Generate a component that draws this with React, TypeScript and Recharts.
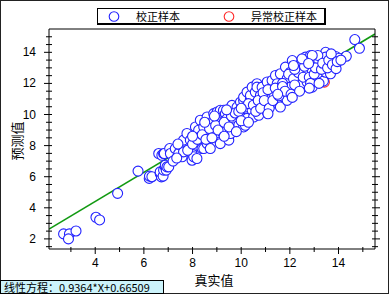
import { ComposedChart, Scatter, Line, XAxis, YAxis } from "recharts"

// calibration samples (真实值, 预测值)
const sampleX = [
  2.7, 2.94, 2.9, 3.21, 4.03, 4.18, 4.92, 5.76, 6.22, 6.23, 6.33, 6.67, 6.72, 6.67, 6.79, 6.81, 6.88, 6.88, 6.92, 6.95,
  7.02, 6.61, 6.74, 6.81, 6.84, 7.06, 7.09, 7.29, 7.43, 7.5, 7.57, 7.63, 7.63, 7.77, 7.91, 7.98, 7.98, 8.05, 8.18, 8.12,
  8.12, 8.25, 8.32, 8.32, 8.39, 8.46, 8.46, 8.6, 8.6, 8.73, 8.73, 8.87, 8.87, 9.01, 9.01, 9.14, 9.14, 9.14, 9.21, 9.21,
  9.27, 9.35, 9.42, 9.42, 9.49, 9.56, 9.56, 9.62, 9.69, 9.69, 9.83, 9.9, 9.97, 10.1, 10.1, 10.1, 10.1, 10.17, 10.17, 10.17,
  10.24, 10.24, 10.38, 10.38, 10.45, 10.45, 10.51, 10.58, 10.65, 10.65, 10.72, 10.79, 10.86, 11.0, 11.07, 11.07, 11.2, 11.2, 11.27, 11.34,
  11.41, 11.48, 11.48, 11.61, 11.61, 11.61, 11.75, 11.82, 11.89, 11.89, 11.89, 12.02, 12.02, 12.1, 12.23, 12.3, 12.44, 12.5, 12.64, 12.71,
  12.71, 12.85, 12.92, 12.92, 12.98, 13.12, 13.19, 13.26, 13.38, 13.4, 13.47, 13.47, 13.47, 13.64, 13.67, 13.8, 13.88, 13.88, 14.03, 14.32,
  14.67, 14.86, 7.2, 7.35, 7.8, 8.0, 8.2, 8.4, 8.55, 8.7, 8.8, 8.95, 9.05, 9.3, 9.3, 9.5, 9.6, 9.75, 9.8, 9.9,
  10.0, 10.3, 10.3, 10.5, 10.6, 10.7, 10.8, 10.9, 10.95, 11.1, 11.15, 11.3, 11.4, 11.55, 11.7, 11.7, 11.8, 11.95, 12.05, 12.15,
  12.2, 12.35, 12.4, 12.55, 12.6, 12.8, 12.85, 13.0, 13.05, 13.15, 13.3, 13.35, 13.55, 13.6, 13.7, 13.75, 12.2, 11.5, 10.0, 9.4,
  8.9, 8.5, 8.0, 7.4, 12.1, 12.8, 13.2, 13.9, 11.1, 12.92, 12.5, 12.77, 12.15, 13.95, 14.1,
]
const sampleY = [
  2.32, 2.32, 2.0, 2.51, 3.39, 3.22, 4.93, 6.36, 5.89, 6.04, 6.0, 6.21, 5.99, 6.31, 6.04, 6.42, 6.63, 6.74, 6.42, 6.63,
  6.63, 7.49, 7.38, 7.49, 7.49, 7.81, 7.49, 7.81, 7.49, 8.03, 7.28, 7.6, 8.35, 8.78, 8.35, 7.49, 7.06, 7.28, 7.17, 8.03,
  9.2, 8.99, 8.56, 9.63, 7.81, 9.2, 7.81, 8.13, 9.84, 7.81, 8.89, 9.63, 10.06, 10.16, 8.78, 10.27, 8.24, 8.13, 8.89, 9.52,
  10.27, 10.06, 8.99, 9.74, 8.35, 10.38, 8.78, 10.59, 9.74, 9.2, 10.48, 9.31, 10.8, 9.84, 9.2, 10.9, 11.12, 9.31, 10.38, 10.48,
  11.44, 9.74, 11.02, 11.23, 11.76, 10.27, 9.84, 11.44, 11.98, 11.76, 9.95, 11.23, 11.76, 10.7, 10.16, 12.09, 11.12, 10.59, 12.19, 11.34,
  12.51, 11.98, 10.91, 12.62, 11.55, 10.48, 11.12, 13.05, 12.3, 11.34, 10.91, 12.72, 11.76, 13.47, 13.05, 11.66, 13.26, 11.98, 13.69, 12.62,
  12.09, 13.8, 12.83, 11.76, 13.37, 12.19, 13.47, 12.41, 12.15, 13.54, 14.0, 13.69, 12.72, 13.15, 12.62, 13.66, 13.73, 13.26, 13.62, 13.75,
  14.82, 14.26, 7.0, 7.2, 7.7, 8.1, 8.4, 8.7, 8.4, 9.1, 8.5, 9.3, 9.0, 9.5, 8.6, 9.2, 9.9, 10.1, 8.9, 10.2,
  9.6, 10.7, 9.5, 10.6, 10.2, 10.9, 10.4, 11.4, 10.9, 11.6, 10.4, 10.9, 11.7, 11.2, 12.0, 11.8, 11.5, 12.6, 11.3, 12.3,
  11.9, 12.7, 11.5, 12.4, 13.1, 12.4, 12.0, 12.6, 13.0, 13.8, 12.9, 13.3, 13.0, 13.5, 13.9, 13.2, 12.9, 11.3, 10.4, 10.3,
  9.9, 9.5, 8.6, 8.1, 11.1, 11.7, 12.0, 12.95, 10.05, 13.8, 13.58, 13.28, 13.15, 13.4, 13.5,
]

// abnormal calibration sample
const outlierX = [13.42]
const outlierY = [12.08]

// fitted line ends: 0.9364*X+0.66509
const fitX = [2.1, 15.5]
const fitY = [2.63, 15.18]

const xTicks = [3, 4, 5, 6, 7, 8, 9, 10, 11, 12, 13, 14, 15]
const yTicks = [
  1.5, 2, 2.5, 3, 3.5, 4, 4.5, 5, 5.5, 6, 6.5, 7, 7.5, 8, 8.5, 9, 9.5, 10, 10.5, 11, 11.5, 12, 12.5, 13, 13.5, 14, 14.5, 15,
]

const samples = sampleX.map((x, i) => ({ x, y: sampleY[i] }))
const outliers = outlierX.map((x, i) => ({ x, y: outlierY[i] }))
const fitLine = fitX.map((x, i) => ({ x, y: fitY[i] }))

const cjk = '"Noto Sans CJK SC", sans-serif'
const num = '"Liberation Sans", Arial, sans-serif'

const ring = (color: string) => (p: any) => (
  <circle cx={p.cx} cy={p.cy} r={5} fill="#fff" stroke={color} strokeWidth={1.1} />
)

const isMajorX = (v: number) => v % 2 === 0
const isMajorY = (v: number) => Number.isInteger(v) && v % 2 === 0

const BottomTick = ({ x, y, payload }: any) => {
  const major = isMajorX(payload.value)
  return (
    <g>
      <line x1={x} x2={x} y1={y - 2} y2={y + (major ? 5 : 3)} stroke="#000" />
      {major && (
        <text x={x} y={y + 14} textAnchor="middle" dominantBaseline="central" fontSize={12} fontFamily={num} fill="#000">
          {payload.value}
        </text>
      )}
    </g>
  )
}

const TopTick = ({ x, y, payload }: any) => {
  const major = isMajorX(payload.value)
  return <line x1={x} x2={x} y1={y + 2} y2={y - (major ? 5 : 3)} stroke="#000" />
}

const LeftTick = ({ x, y, payload }: any) => {
  const major = isMajorY(payload.value)
  return (
    <g>
      <line x1={x - (major ? 5 : 3)} x2={x + 3} y1={y} y2={y} stroke="#000" />
      {major && (
        <text x={x - 13} y={y} textAnchor="end" dominantBaseline="central" fontSize={12} fontFamily={num} fill="#000">
          {payload.value}
        </text>
      )}
    </g>
  )
}

const RightTick = ({ x, y, payload }: any) => {
  const major = isMajorY(payload.value)
  return <line x1={x - 3} x2={x + (major ? 5 : 3)} y1={y} y2={y} stroke="#000" />
}

export default function App() {
  return (
    <div
      style={{
        position: "absolute",
        left: 0,
        top: 0,
        width: 389,
        height: 294,
        background: "#fff",
        border: "1px solid #222",
        boxSizing: "border-box",
      }}
    >
      <div style={{ position: "absolute", left: -1, top: -1 }}>
        <ComposedChart width={389} height={294} margin={{ top: 28, right: 13, bottom: 44, left: 48 }}>
          <XAxis
            type="number"
            dataKey="x"
            domain={[2.1, 15.5]}
            ticks={xTicks}
            allowDataOverflow
            height={1}
            tickSize={0}
            tickMargin={0}
            tickLine={false}
            tick={<BottomTick />}
            axisLine={{ stroke: "#000" }}
            interval={0}
          />
          <XAxis
            xAxisId="top"
            orientation="top"
            type="number"
            domain={[2.1, 15.5]}
            ticks={xTicks}
            allowDataOverflow
            height={1}
            tickSize={0}
            tickMargin={0}
            tickLine={false}
            tick={<TopTick />}
            axisLine={{ stroke: "#000" }}
            interval={0}
          />
          <YAxis
            type="number"
            dataKey="y"
            domain={[1.35, 15.5]}
            ticks={yTicks}
            allowDataOverflow
            width={1}
            tickSize={0}
            tickMargin={0}
            tickLine={false}
            tick={<LeftTick />}
            axisLine={{ stroke: "#000" }}
            interval={0}
          />
          <YAxis
            yAxisId="right"
            orientation="right"
            type="number"
            domain={[1.35, 15.5]}
            ticks={yTicks}
            allowDataOverflow
            width={1}
            tickSize={0}
            tickMargin={0}
            tickLine={false}
            tick={<RightTick />}
            axisLine={{ stroke: "#000" }}
            interval={0}
          />
          <Scatter data={outliers} shape={ring("#ff2a2a")} isAnimationActive={false} />
          <Scatter data={samples} shape={ring("#2323ff")} isAnimationActive={false} />
          <Line
            data={fitLine}
            dataKey="y"
            type="linear"
            stroke="#129a12"
            strokeWidth={1.6}
            dot={false}
            activeDot={false}
            isAnimationActive={false}
          />
        </ComposedChart>
      </div>

      {/* legend */}
      <div
        style={{
          position: "absolute",
          left: 96,
          top: 7,
          width: 229,
          height: 17,
          border: "1px solid #000",
          borderRightWidth: 2,
          borderBottomWidth: 2,
          boxSizing: "border-box",
          background: "#fff",
          fontFamily: cjk,
          fontSize: 11,
          lineHeight: "14px",
        }}
      >
        <svg width={229} height={17} style={{ position: "absolute", left: -1, top: -1 }}>
          <circle cx={17} cy={8.5} r={4.8} fill="none" stroke="#2323ff" strokeWidth={1.1} />
          <circle cx={132} cy={8.5} r={4.8} fill="none" stroke="#ff2a2a" strokeWidth={1.1} />
        </svg>
        <span style={{ position: "absolute", left: 38, top: 0 }}>校正样本</span>
        <span style={{ position: "absolute", left: 153, top: 0 }}>异常校正样本</span>
      </div>

      {/* axis titles */}
      <div
        style={{
          position: "absolute",
          left: 15,
          top: 140,
          transform: "translate(-50%, -50%) rotate(-90deg)",
          fontFamily: cjk,
          fontSize: 13,
          whiteSpace: "nowrap",
        }}
      >
        预测值
      </div>
      <div
        style={{
          position: "absolute",
          left: 213,
          top: 278,
          transform: "translate(-50%, -50%)",
          fontFamily: cjk,
          fontSize: 13,
          whiteSpace: "nowrap",
        }}
      >
        真实值
      </div>

      {/* equation box */}
      <div
        style={{
          position: "absolute",
          left: -1,
          top: 279,
          width: 164,
          height: 14,
          background: "#ccf3fb",
          border: "1px solid #000",
          boxSizing: "border-box",
          fontFamily: cjk,
          fontSize: 11,
          lineHeight: "12px",
          paddingLeft: 3,
          whiteSpace: "nowrap",
          overflow: "hidden",
        }}
      >
        线性方程：0.9364*X+0.66509
      </div>
    </div>
  )
}
